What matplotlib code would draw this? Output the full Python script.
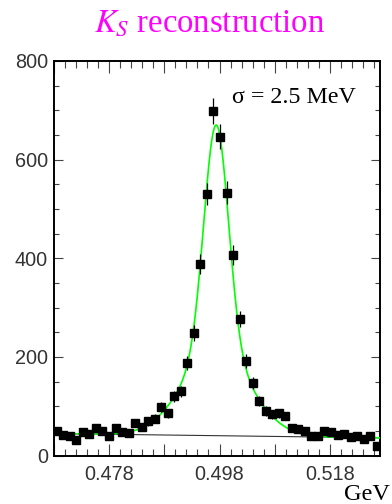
import numpy as np
import matplotlib
matplotlib.use("Agg")
import matplotlib.pyplot as plt
from matplotlib.ticker import MultipleLocator, FixedLocator
from matplotlib.transforms import ScaledTranslation

plt.rcParams['mathtext.fontset'] = 'stix'

# ---- data ----
x_min, x_max, n_bins = 0.468, 0.527, 50
counts = [49, 42, 39, 32, 47, 44, 55, 49, 39, 56,
          47, 46, 65, 58, 69, 75, 98, 86, 120, 130,
          188, 248, 388, 530, 699, 646, 533, 407, 277, 191,
          148, 110, 90, 84, 86, 80, 56, 54, 49, 40,
          40, 49, 48, 42, 44, 37, 39, 34, 40, 19]

# fit parameters (double gaussian + linear background)
mass = 0.4974
amp1, sig1 = 460.0, 0.0022
amp2, sig2 = 170.0, 0.0060
bg0, bg_slope = 44.5, -146.0

major_x = [0.468, 0.478, 0.488, 0.498, 0.508, 0.518]
major_x_labels = ['', '0.478', '', '0.498', '', '0.518']
y_ticks = [0, 200, 400, 600, 800]

title = r'$K_S$ reconstruction'
sigma_text = 'σ = 2.5 MeV'
unit_text = 'GeV'

# ---- plotting ----
edges = np.linspace(x_min, x_max, n_bins + 1)
centers = 0.5 * (edges[:-1] + edges[1:])
counts = np.array(counts, dtype=float)
errs = np.sqrt(counts)

fig = plt.figure(figsize=(3.92, 5.04), dpi=100)
ax = fig.add_axes([53.5/392, 1-455.5/504, (380-53.5)/392, (455.5-61)/504])

xf = np.linspace(x_min, x_max, 600)
bg = bg0 + bg_slope * (xf - x_min)
sig = amp1*np.exp(-0.5*((xf-mass)/sig1)**2) + amp2*np.exp(-0.5*((xf-mass)/sig2)**2)
ax.plot(xf, bg, color='#333333', lw=0.8, zorder=2)
ax.plot(xf, bg + sig, color='#00ff00', lw=1.2, zorder=3)

ax.errorbar(centers, counts, yerr=errs, fmt='s', color='black', ms=6,
            elinewidth=0.9, capsize=0, zorder=4)

ax.set_xlim(x_min, x_max)
ax.set_ylim(0, 800)

ax.xaxis.set_major_locator(FixedLocator(major_x))
ax.set_xticklabels(major_x_labels)
ax.xaxis.set_minor_locator(MultipleLocator(0.002))
ax.set_yticks(y_ticks)
ax.yaxis.set_minor_locator(MultipleLocator(50))

for lab in ax.get_xticklabels() + ax.get_yticklabels():
    lab.set_fontfamily('Liberation Sans')
    lab.set_fontsize(14.3)
    lab.set_color('#333333')
for lab in ax.get_xticklabels():
    lab.set_transform(lab.get_transform() + ScaledTranslation(-4.5/100, 0, fig.dpi_scale_trans))

tc = '#444444'
ax.tick_params(axis='x', which='major', direction='in', length=8.5, width=0.8,
               top=True, bottom=True, pad=6.5, color=tc)
ax.tick_params(axis='x', which='minor', direction='in', length=4.8, width=0.8,
               top=True, bottom=True, color=tc)
ax.tick_params(axis='y', which='major', direction='in', length=6.5, width=0.8,
               left=True, right=True, pad=4, color=tc)
ax.tick_params(axis='y', which='minor', direction='in', length=3.6, width=0.8,
               left=True, right=True, color=tc)
for sp in ax.spines.values():
    sp.set_linewidth(1.4)

fig.text(209/392, 1-32/504, title, color='#ff00ff', fontsize=23.5,
         family='Liberation Serif', ha='center', va='baseline')
ax.text((231.7-53.5)/326.5, (455.5-103)/394.5, sigma_text, transform=ax.transAxes,
        fontsize=17.3, family='Liberation Serif', ha='left', va='baseline')
fig.text(390/392, 1-500/504, unit_text, fontsize=17.5, family='Liberation Serif',
         ha='right', va='baseline')

fig.savefig('out.png', dpi=100)
